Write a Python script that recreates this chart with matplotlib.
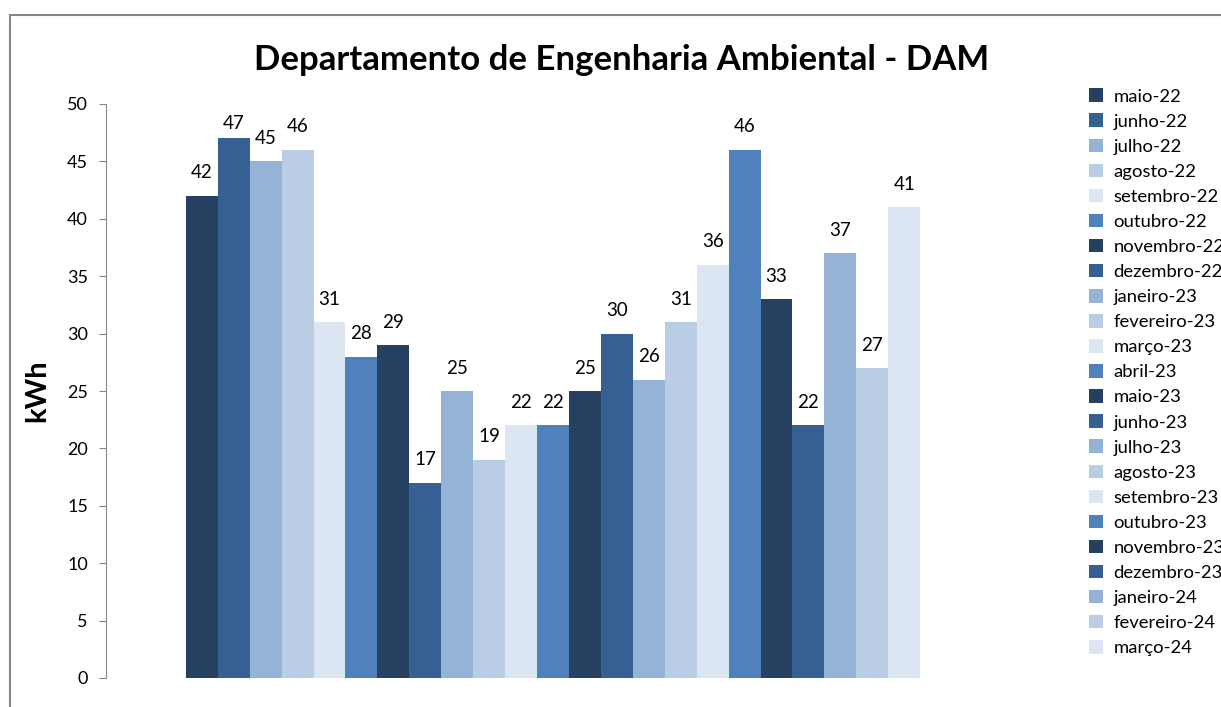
import matplotlib.pyplot as plt
from matplotlib.patches import Rectangle, Patch

months = ["maio-22", "junho-22", "julho-22", "agosto-22", "setembro-22", "outubro-22",
          "novembro-22", "dezembro-22", "janeiro-23", "fevereiro-23", "março-23", "abril-23",
          "maio-23", "junho-23", "julho-23", "agosto-23", "setembro-23", "outubro-23",
          "novembro-23", "dezembro-23", "janeiro-24", "fevereiro-24", "março-24"]
kwh = [42, 47, 45, 46, 31, 28, 29, 17, 25, 19, 22, 22, 25, 30, 26, 31, 36, 46, 33, 22, 37, 27, 41]
palette = ["#254061", "#376092", "#95B3D7", "#B9CDE5", "#DCE6F2", "#4F81BD"]

plt.rcParams['font.family'] = ['Lato', 'DejaVu Sans']


def main():
    fig = plt.figure(figsize=(12.21, 7.07), dpi=100)
    ax = fig.add_axes([106 / 1221, 1 - 678 / 707, (1000 - 106) / 1221, (678 - 104) / 707])

    colors = [palette[i % len(palette)] for i in range(len(kwh))]
    xs = list(range(len(kwh)))
    ax.bar(xs, kwh, width=1.0, color=colors, linewidth=0)

    top_limit = 48.3
    for x, v in zip(xs, kwh):
        ax.text(x, min(v + 2.0, top_limit), str(v), ha="center", va="center", fontsize=13.5)

    ax.set_xlim(-3, 25)
    ax.set_ylim(0, 50)
    ax.set_yticks(range(0, 51, 5))
    ax.set_xticks([])
    for s in ["top", "right", "bottom"]:
        ax.spines[s].set_visible(False)
    ax.spines["left"].set_color("#868686")
    ax.tick_params(axis="y", direction="out", length=5, color="#868686", labelsize=13, pad=8)
    ax.set_ylabel("kWh", fontsize=21, fontweight="bold", labelpad=12)

    fig.text(622 / 1221, 1 - 60 / 707, "Departamento de Engenharia Ambiental - DAM",
             ha="center", va="center", fontsize=25, fontweight="bold")

    handles = [Patch(facecolor=c, edgecolor="none") for c in colors]
    fig.legend(handles, months, loc="upper left", bbox_to_anchor=(1082 / 1221, 1 - 81 / 707),
               frameon=False, fontsize=13.3, handlelength=0.75, handleheight=0.75,
               handletextpad=0.55, labelspacing=0.48, borderaxespad=0)

    fig.patches.append(Rectangle((10 / 1221, -0.1), 1.5, 1 - 15 / 707 + 0.1,
                                 transform=fig.transFigure, fill=False,
                                 edgecolor="#868686", linewidth=1.5))

    fig.savefig("out.png", dpi=100)
    plt.close(fig)


if __name__ == "__main__":
    main()
